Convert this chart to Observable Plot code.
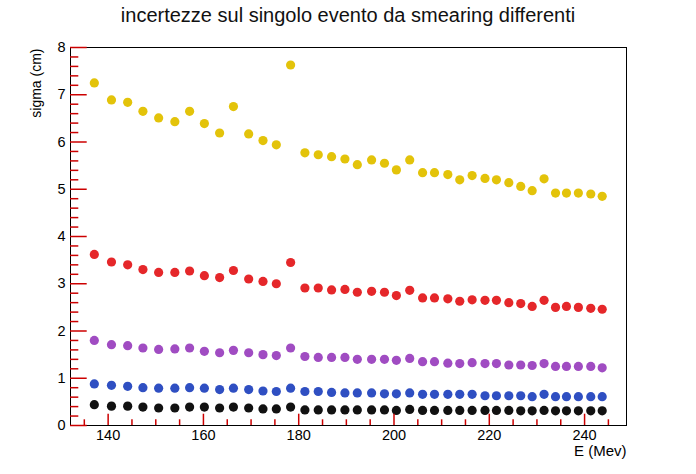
<!DOCTYPE html>
<html><head><meta charset="utf-8">
<script src="https://cdn.jsdelivr.net/npm/d3@7"></script>
<script src="https://cdn.jsdelivr.net/npm/@observablehq/plot@0.6"></script>
<style>
body{margin:0;background:#fff;font-family:"Liberation Sans",Arial,sans-serif;}
#wrap{width:696px;height:474px;}
#title{height:36px;line-height:30px;text-align:center;font-size:20px;color:#111;white-space:nowrap;}
</style></head><body>
<div id="wrap"><div id="title">incertezze sul singolo evento da smearing differenti</div><div id="chart"></div></div>
<script>
const energy = [137.1,140.7,144.1,147.3,150.6,154.0,157.1,160.2,163.4,166.3,169.5,172.5,175.3,178.3,181.3,184.1,186.9,189.7,192.3,195.3,198.0,200.5,203.3,206.0,208.5,211.3,213.8,216.4,219.1,221.5,224.1,226.6,229.0,231.5,233.9,236.2,238.7,241.3,243.7];
const yellowSigma = [7.25,6.89,6.84,6.65,6.51,6.43,6.65,6.39,6.19,6.75,6.17,6.03,5.94,7.63,5.77,5.73,5.69,5.64,5.52,5.62,5.55,5.41,5.62,5.35,5.35,5.31,5.20,5.29,5.23,5.20,5.14,5.06,4.97,5.22,4.92,4.92,4.92,4.90,4.85];
const redSigma = [3.62,3.46,3.40,3.30,3.24,3.24,3.27,3.17,3.13,3.28,3.10,3.05,3.00,3.45,2.91,2.91,2.87,2.88,2.82,2.84,2.82,2.75,2.86,2.70,2.70,2.68,2.63,2.66,2.65,2.65,2.60,2.58,2.52,2.65,2.50,2.52,2.50,2.48,2.46];
const purpleSigma = [1.80,1.71,1.69,1.64,1.61,1.62,1.64,1.57,1.54,1.59,1.54,1.50,1.48,1.64,1.46,1.44,1.44,1.44,1.40,1.40,1.40,1.38,1.42,1.35,1.35,1.32,1.31,1.33,1.31,1.31,1.28,1.28,1.27,1.31,1.25,1.25,1.25,1.25,1.22];
const blueSigma = [0.88,0.85,0.83,0.80,0.79,0.79,0.80,0.79,0.76,0.79,0.76,0.73,0.72,0.79,0.72,0.72,0.70,0.69,0.69,0.69,0.67,0.67,0.69,0.66,0.66,0.66,0.66,0.66,0.63,0.63,0.63,0.63,0.61,0.66,0.61,0.61,0.61,0.61,0.61];
const blackSigma = [0.44,0.41,0.41,0.39,0.37,0.37,0.39,0.39,0.37,0.39,0.37,0.35,0.35,0.39,0.33,0.33,0.33,0.33,0.33,0.33,0.33,0.32,0.34,0.32,0.32,0.32,0.32,0.32,0.32,0.32,0.32,0.31,0.31,0.32,0.31,0.31,0.31,0.31,0.31];
const seriesNames = ["giallo","rosso","viola","blu","nero"];
const seriesColors = ["#e3c30a","#e5272a","#a04cc2","#2f4fc2","#111111"];
const xTickValues = [140,160,180,200,220,240];
const yTickValues = [0,1,2,3,4,5,6,7,8];
const xMinorTicks = [135,145,150,155,165,170,175,185,190,195,205,210,215,225,230,235,245];
const yMinorTicks = d3.range(0, 40).map(i => i / 5).filter(v => v % 1 !== 0);

const allSeries = [yellowSigma, redSigma, purpleSigma, blueSigma, blackSigma];
const data = allSeries.flatMap((arr, i) => arr.map((s, j) => ({E: energy[j], sigma: s, serie: seriesNames[i]})));

const W = 696, H = 438, mT = 11, mB = 49, mL = 70, mR = 70;
const frameW = W - mL - mR, frameH = H - mT - mB;
const noText = () => "";
const tickColor = "#cc0000";

const chart = Plot.plot({
  width: W, height: H,
  marginTop: mT, marginBottom: mB, marginLeft: mL, marginRight: mR,
  style: {fontFamily: "Liberation Sans, Arial, sans-serif", fontSize: "14px", background: "#fff"},
  x: {domain: [132.1, 248.8]},
  y: {domain: [0, 8]},
  color: {domain: seriesNames, range: seriesColors},
  marks: [
    Plot.dot(data, {x: "E", y: "sigma", fill: "serie", r: 4.6}),
    Plot.frame({stroke: "black"}),
    Plot.ruleX(xMinorTicks, {x: d => d, insetTop: frameH - 5.7, stroke: tickColor, strokeWidth: 1.5}),
    Plot.ruleX(xTickValues, {x: d => d, insetTop: frameH - 11.3, stroke: tickColor, strokeWidth: 1.5}),
    Plot.ruleY(yMinorTicks, {y: d => d, insetRight: frameW - 8.3, stroke: tickColor, strokeWidth: 1.5}),
    Plot.ruleY(yTickValues, {y: d => d, insetRight: frameW - 16.7, stroke: tickColor, strokeWidth: 1.5}),
    Plot.axisX(xTickValues, {anchor: "bottom", tickSize: 0, tickPadding: 4, label: null, fontSize: 14.5}),
    Plot.axisY(yTickValues, {anchor: "left", tickSize: 0, tickPadding: 5, label: null, fontSize: 14.5}),
    Plot.text(["sigma (cm)"], {frameAnchor: "top-left", text: d => d, rotate: -90, textAnchor: "end", dx: -39, dy: 1, fontSize: 14}),
    Plot.text(["E (Mev)"], {frameAnchor: "bottom-right", text: d => d, textAnchor: "end", dy: 30, fontSize: 15})
  ]
});
document.getElementById("chart").appendChild(chart);
</script>
</body></html>
